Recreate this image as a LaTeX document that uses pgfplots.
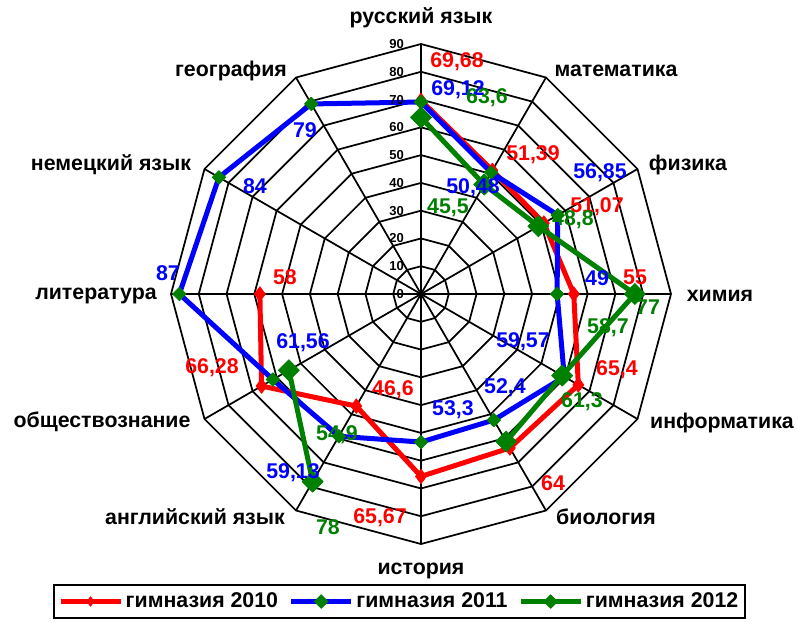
\documentclass[border=0pt]{standalone}
\usepackage{pgfplots}
\pgfplotsset{compat=1.18}
\usepackage{fontspec}
\setmainfont{Liberation Sans}
\definecolor{cRed}{RGB}{255,0,0}
\definecolor{cBlue}{RGB}{0,0,255}
\definecolor{cGreen}{RGB}{0,128,0}
\newcommand{\lbl}{\fontsize{16}{18}\selectfont\bfseries}
\begin{document}
\begin{tikzpicture}
\begin{axis}[
  at={(0,0)}, anchor=center,
  scale only axis, width=375pt, height=375pt,
  xmin=-90, xmax=90, ymin=-90, ymax=90,
  hide axis, clip=false,
  data cs=polar,
  unbounded coords=jump,
  legend columns=3,
  legend style={at={(0.457,-0.115)}, anchor=center, draw=black, line width=1.2pt,
    font=\lbl, inner xsep=3pt, inner ysep=4pt,
    /tikz/every even column/.append style={column sep=6pt}},
  legend cell align=left,
  legend image post style={mark size=3.6pt},
  legend image code/.code={\draw[mark repeat=2,mark phase=2,#1] plot coordinates {(0pt,0pt) (22.5pt,0pt) (45pt,0pt)};},
]
% grid rings
\pgfplotsinvokeforeach{10,20,30,40,50,60,70,80,90}{
  \addplot[forget plot, black, line width=1.3pt, line join=miter, no markers]
    coordinates {(90,#1)(60,#1)(30,#1)(0,#1)(-30,#1)(-60,#1)(-90,#1)(-120,#1)(-150,#1)(-180,#1)(-210,#1)(-240,#1)(-270,#1)(-300,#1)};
}
% spokes
\pgfplotsinvokeforeach{0,30,60,90,120,150,180,210,240,270,300,330}{
  \addplot[forget plot, black, line width=1.3pt, no markers] coordinates {(#1,0)(#1,90)};
}
\addplot[cRed, line width=3.75pt, line join=round, mark=diamond*, mark size=5.5pt,
  mark options={cRed, line width=0.5pt, solid}]
  coordinates {(90,69.68)(60,51.39)(30,51.07)(0,55)(-30,65.4)(-60,64)(-90,65.67)(-120,46.6)(-150,66.28)(-180,58)};
\addlegendentry{гимназия 2010}
\addplot[cBlue, line width=3.75pt, line join=round, mark=square*, mark size=3.6pt,
  mark options={cGreen, line width=0.5pt, rotate=45, solid}]
  coordinates {(90,69.12)(60,50.48)(30,56.85)(0,49)(-30,59.57)(-60,52.4)(-90,53.3)(-120,59.13)(-150,61.56)(-180,87)(-210,84)(-240,79)(-270,69.12)};
\addlegendentry{гимназия 2011}
\addplot[cGreen, line width=3.75pt, line join=round, mark=square*, mark size=5.6pt,
  mark options={cGreen, line width=0.5pt, rotate=45, solid}]
  coordinates {(90,63.6)(60,45.5)(30,48.8)(0,77)(-30,58.7)(-60,61.3)(-90,nan)(-120,78)(-150,54.9)};
\addlegendentry{гимназия 2012}
\end{axis}
\begin{scope}[x=0.75pt, y=-0.75pt]
  % tick labels
  \foreach \v in {0,10,20,30,40,50,60,70,80,90}{
    \node[anchor=east, inner sep=0pt, font=\fontsize{9.75}{11}\selectfont\bfseries] at (-17,{-\v*2.7778}) {\v};
  }
  % category labels
  \begin{scope}[every node/.style={font=\lbl, inner sep=0pt, anchor=center}]
  \node at (0,-276) {русский язык};
  \node at (195,-223) {математика};
  \node at (267,-129) {физика};
  \node at (299,2) {химия};
  \node at (301,129) {информатика};
  \node at (185,223) {биология};
  \node at (0,277) {история};
  \node at (-226,223) {английский язык};
  \node at (-319,128) {обществознание};
  \node at (-325,2) {литература};
  \node at (-310,-129) {немецкий язык};
  \node at (-190,-223) {география};
  % data labels red
  \node[cRed] at (36,-232) {69,68};
  \node[cRed] at (112,-139) {51,39};
  \node[cRed] at (176,-87) {51,07};
  \node[cRed] at (214,-17) {55};
  \node[cRed] at (196,76) {65,4};
  \node[cRed] at (132,189) {64};
  \node[cRed] at (-41,224) {65,67};
  \node[cRed] at (-28,96) {46,6};
  \node[cRed] at (-209,74) {66,28};
  \node[cRed] at (-136,-17) {58};
  % blue
  \node[cBlue] at (37,-204) {69,12};
  \node[cBlue] at (52,-106) {50,48};
  \node[cBlue] at (179,-121) {56,85};
  \node[cBlue] at (176,-16) {49};
  \node[cBlue] at (102,48) {59,57};
  \node[cBlue] at (84,94) {52,4};
  \node[cBlue] at (32,116) {53,3};
  \node[cBlue] at (-128,179) {59,13};
  \node[cBlue] at (-118,49) {61,56};
  \node[cBlue] at (-253,-21) {87};
  \node[cBlue] at (-166,-108) {84};
  \node[cBlue] at (-116,-164) {79};
  % green
  \node[cGreen] at (66,-196) {63,6};
  \node[cGreen] at (27,-86) {45,5};
  \node[cGreen] at (152,-74) {48,8};
  \node[cGreen] at (227,13) {77};
  \node[cGreen] at (187,34) {58,7};
  \node[cGreen] at (161,108) {61,3};
  \node[cGreen] at (-84,141) {54,9};
  \node[cGreen] at (-93,233) {78};
  \end{scope}
  \pgfresetboundingbox
  \path[use as bounding box] (-421,-294) rectangle (377,328);
\end{scope}
\end{tikzpicture}
\end{document}
